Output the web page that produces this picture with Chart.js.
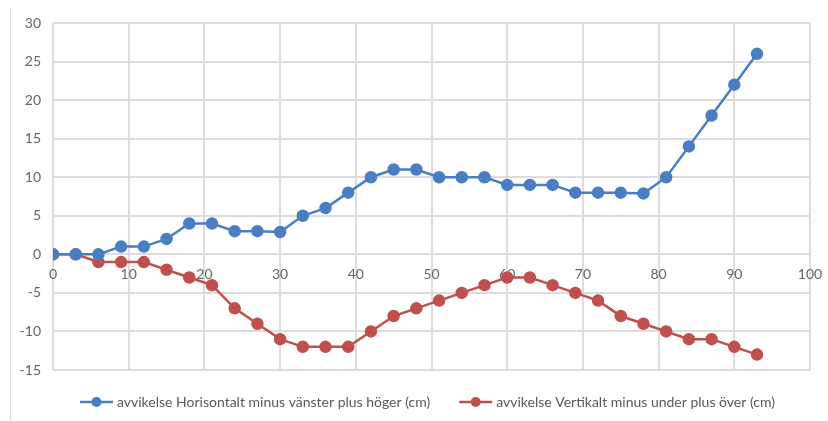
<!DOCTYPE html>
<html>
<head>
<meta charset="utf-8">
<script src="https://cdn.jsdelivr.net/npm/chart.js@4"></script>
<style>
  html, body { margin: 0; padding: 0; background: #fff; }
  #wrap { position: relative; width: 828px; height: 421px; }
  #wrap:before { content: ""; position: absolute; left: 10px; top: 8px; bottom: 0; border-left: 1px solid #d9d9d9; }
</style>
</head>
<body>
<div id="wrap"><canvas id="myChart" width="828" height="421"></canvas></div>
<script>
  // avstånd (x) och avvikelser
  const xVals = [0, 3, 6, 9, 12, 15, 18, 21, 24, 27, 30, 33, 36, 39, 42, 45, 48, 51, 54, 57, 60, 63, 66, 69, 72, 75, 78, 81, 84, 87, 90, 93];
  const horisontalt = [0, 0, 0, 1, 1, 2, 4, 4, 3, 3, 2.9, 5, 6, 8, 10, 11, 11, 10, 10, 10, 9, 9, 9, 8, 8, 8, 7.9, 10, 14, 18, 22, 26];
  const vertikalt = [0, 0, -1, -1, -1, -2, -3, -4, -7, -9, -11, -12, -12, -12, -10, -8, -7, -6, -5, -4, -3, -3, -4, -5, -6, -8, -9, -10, -11, -11, -12, -13];
  const namn = ['avvikelse Horisontalt minus vänster plus höger (cm)', 'avvikelse Vertikalt minus under plus över (cm)'];
  const farger = ['#4a7ec2', '#c0504d'];

  const fontFam = 'Lato, "Open Sans", sans-serif';

  // egen legend med linje + punkt
  const legendPlugin = {
    id: 'lineLegend',
    afterDraw(chart) {
      const ctx = chart.ctx;
      ctx.save();
      ctx.font = '14px ' + fontFam;
      const lineW = 33, gap = 4, itemGap = 29;
      const widths = namn.map((n) => lineW + gap + ctx.measureText(n).width);
      let x = 80;
      const y = 402;
      namn.forEach((n, i) => {
        ctx.strokeStyle = farger[i];
        ctx.lineWidth = 2.5;
        ctx.beginPath();
        ctx.moveTo(x, y);
        ctx.lineTo(x + lineW, y);
        ctx.stroke();
        ctx.fillStyle = farger[i];
        ctx.beginPath();
        ctx.arc(x + lineW / 2, y, 5, 0, Math.PI * 2);
        ctx.fill();
        ctx.fillStyle = '#595959';
        ctx.textBaseline = 'middle';
        ctx.textAlign = 'left';
        ctx.fillText(n, x + lineW + gap, y);
        x += widths[i] + itemGap;
      });
      ctx.restore();
    }
  };

  const dataset = (vals, i) => ({
    label: namn[i],
    data: xVals.map((x, k) => ({ x: x, y: vals[k] })),
    borderColor: farger[i],
    backgroundColor: farger[i],
    borderWidth: 2.5,
    pointRadius: 5,
    pointHoverRadius: 5,
    tension: 0,
    fill: false
  });

  const weely = document.getElementById('myChart');
  const chart = new Chart(weely, {
    type: 'line',
    data: {
      datasets: [dataset(horisontalt, 0), dataset(vertikalt, 1)]
    },
    options: {
      responsive: false,
      animation: false,
      layout: { padding: { left: 10, right: 18, top: 23, bottom: 51 } },
      plugins: { legend: { display: false }, tooltip: { enabled: false } },
      scales: {
        x: {
          type: 'linear',
          position: { y: 0 },
          min: 0,
          max: 100,
          ticks: { stepSize: 10, color: '#666666', font: { family: fontFam, size: 14 }, padding: 12 },
          grid: { color: '#dcdcdc', lineWidth: 2, drawTicks: false },
          border: { display: false },
          afterFit(scale) { scale.paddingRight = 0; scale.paddingLeft = 0; }
        },
        y: {
          min: -15,
          max: 30,
          ticks: { stepSize: 5, color: '#666666', font: { family: fontFam, size: 14 }, padding: 12 },
          grid: { color: '#dcdcdc', lineWidth: 2, drawTicks: false },
          border: { display: false },
          afterFit(scale) { scale.width = 43; }
        }
      }
    },
    plugins: [legendPlugin]
  });
</script>
</body>
</html>
